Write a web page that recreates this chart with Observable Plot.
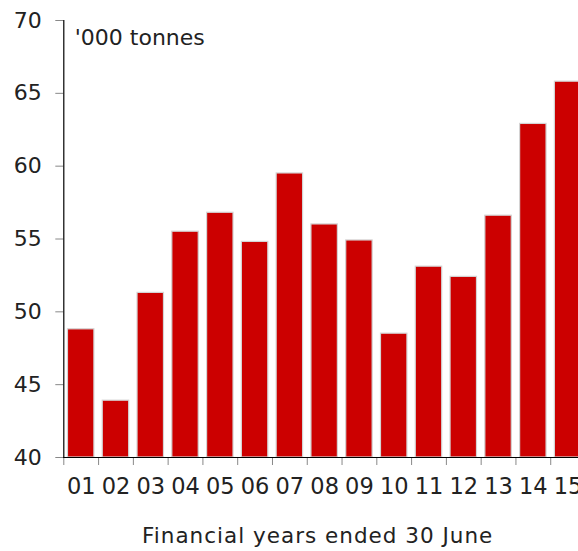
<!DOCTYPE html>
<html>
<head>
<meta charset="utf-8">
<script src="https://cdn.jsdelivr.net/npm/d3@7"></script>
<script src="https://cdn.jsdelivr.net/npm/@observablehq/plot@0.6"></script>
<style>
  html, body { margin: 0; padding: 0; background: #fff; overflow: hidden; }
  #chart { width: 578px; height: 551px; overflow: hidden; }
  #chart svg { max-width: none !important; }
</style>
</head>
<body>
<div id="chart"></div>
<script>
const years = ["01","02","03","04","05","06","07","08","09","10","11","12","13","14","15"];
const values = [48.8, 43.9, 51.3, 55.5, 56.8, 54.8, 59.5, 56.0, 54.9, 48.5, 53.1, 52.4, 56.6, 62.9, 65.8];
const yTicks = [40, 45, 50, 55, 60, 65, 70];
const unitLabel = "'000 tonnes";
const xTitle = "Financial years ended 30 June";

const data = years.map((y, i) => ({year: y, value: values[i]}));
const font = "'DejaVu Sans', sans-serif";
const W = 585;
const ML = 63.3;
const step = (W - ML) / years.length;

const chart = Plot.plot({
  width: W,
  height: 551,
  marginLeft: ML,
  marginRight: 0,
  marginTop: 20,
  marginBottom: 94,
  style: {fontFamily: font, background: "#fff", color: "#222", maxWidth: "none"},
  x: {type: "band", domain: years, paddingInner: 0.24, paddingOuter: 0.12, round: false},
  y: {domain: [40, 70], ticks: yTicks},
  marks: [
    Plot.barY(data, {x: "year", y1: 40, y2: "value", fill: "#cc0000", stroke: "#d4d4d4", strokeWidth: 1.2}),
    Plot.axisY({ticks: yTicks, tickSize: 8, tickPadding: 14, stroke: "#888", fontSize: 22, fill: "#222", label: null}),
    Plot.axisX({tickSize: 8, dx: -step / 2, stroke: "#888", text: null, label: null}),
    Plot.axisX({tickSize: 0, tickPadding: 20.5, fontSize: 22.5, fill: "#222", label: null}),
    Plot.ruleY([40], {stroke: "#000", strokeWidth: 1.2}),
    Plot.frame({anchor: "left", stroke: "#000", strokeWidth: 1.2}),
    Plot.text([unitLabel], {frameAnchor: "top-left", dx: 11, dy: 17.5, lineAnchor: "middle", fontSize: 22, fill: "#222", textAnchor: "start"}),
    Plot.text([xTitle], {frameAnchor: "bottom", dx: -7, dy: 79, lineAnchor: "middle", fontSize: 21.5, fill: "#222"})
  ]
});
d3.select(chart).selectAll("text")
  .filter(function () { return this.textContent === xTitle; })
  .attr("letter-spacing", "1px");
document.getElementById("chart").appendChild(chart);
</script>
</body>
</html>
